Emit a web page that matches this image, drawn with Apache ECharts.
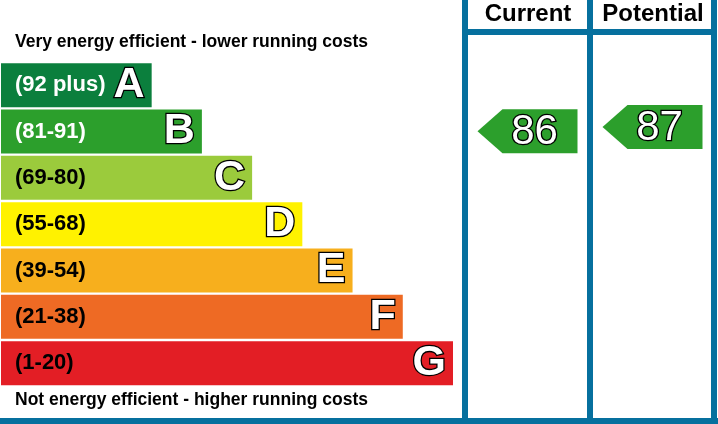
<!DOCTYPE html>
<html>
<head>
    <meta charset="UTF-8">
    <title>Energy efficiency rating</title>
</head>
<style>
    html, body { margin: 0; padding: 0; background: #fff; }
    #chart { width: 718px; height: 424px; }
</style>
<body>
<div id="chart"></div>
<script type="text/javascript" src="https://cdn.jsdelivr.net/npm/echarts@6/dist/echarts.min.js"></script>
<script>
    // bands, top (best) to bottom
    var bandLetters = ['A', 'B', 'C', 'D', 'E', 'F', 'G'];
    var bandRanges = ['(92 plus)', '(81-91)', '(69-80)', '(55-68)', '(39-54)', '(21-38)', '(1-20)'];
    var bandLength = [3, 4, 5, 6, 7, 8, 9];
    var bandColors = ['#0b7f3d', '#2c9f2c', '#9bcb3c', '#fff200', '#f7af1d', '#ee6a24', '#e31e25'];
    var rangeTextColors = ['#fff', '#fff', '#000', '#000', '#000', '#000', '#000'];

    // ratings
    var ratingColumns = ['Current', 'Potential'];
    var ratingValues = [86, 87];
    var ratingColors = ['#2c9f2c', '#2c9f2c'];

    var frameBlue = '#06709e';
    var font = '"Liberation Sans", Arial, sans-serif';

    var ele = document.getElementById('chart');
    var draw = echarts.init(ele);

    function frameRect(x, y, w, h) {
        return { type: 'rect', shape: { x: x, y: y, width: w, height: h }, style: { fill: frameBlue }, silent: true };
    }
    function plainText(x, y, text, size, align) {
        return {
            type: 'text', x: x, y: y, silent: true,
            style: { text: text, font: 'bold ' + size + 'px ' + font, fill: '#000', align: align, verticalAlign: 'middle' }
        };
    }
    // letter at the bar end; the black copy sits under the white one so the outline stays outside
    function letterSeries(fill, border) {
        return {
            type: 'bar',
            xAxisIndex: 0, yAxisIndex: 0,
            barWidth: 44,
            barGap: '-100%',
            silent: true,
            itemStyle: { color: 'rgba(0,0,0,0)' },
            data: bandLength,
            label: {
                show: true,
                position: 'insideRight',
                distance: 7,
                fontFamily: font,
                fontWeight: 'bold',
                fontSize: 43,
                color: fill,
                textBorderColor: '#000',
                textBorderWidth: border,
                formatter: function (p) { return bandLetters[p.dataIndex]; }
            }
        };
    }

    var option = {
        animation: false,
        backgroundColor: '#fff',
        grid: [
            { left: 1, top: 62, width: 452, height: 324.3 },
            // score axis: ~4.3px per point
            { left: 465, top: 105.5, width: 250, height: 51.6 }
        ],
        xAxis: [
            { gridIndex: 0, type: 'value', min: 0, max: 9, show: false },
            { gridIndex: 1, type: 'category', data: ratingColumns, show: false }
        ],
        yAxis: [
            { gridIndex: 0, type: 'category', data: bandLetters, inverse: true, show: false },
            { gridIndex: 1, type: 'value', min: 80, max: 92, show: false }
        ],
        graphic: [
            frameRect(462, 0, 6, 418),
            frameRect(587, 0, 6, 418),
            frameRect(711, 0, 6, 418),
            frameRect(462, 29, 255, 6),
            frameRect(0, 418, 718, 6),
            plainText(528, 14, ratingColumns[0], 24, 'center'),
            plainText(653, 14, ratingColumns[1], 24, 'center'),
            plainText(15, 42, 'Very energy efficient - lower running costs', 17.5, 'left'),
            plainText(15, 400, 'Not energy efficient - higher running costs', 17.5, 'left')
        ],
        series: [
            {
                type: 'bar',
                xAxisIndex: 0, yAxisIndex: 0,
                barWidth: 44,
                silent: true,
                data: bandLength.map(function (v, i) {
                    return {
                        value: v,
                        itemStyle: { color: bandColors[i] },
                        label: { color: rangeTextColors[i] }
                    };
                }),
                label: {
                    show: true,
                    position: 'insideLeft',
                    distance: 14,
                    fontFamily: font,
                    fontWeight: 'bold',
                    fontSize: 22,
                    formatter: function (p) { return bandRanges[p.dataIndex]; }
                }
            },
            letterSeries('#000', 2.6),
            letterSeries('#fff', 0),
            {
                type: 'custom',
                xAxisIndex: 1, yAxisIndex: 1,
                silent: true,
                data: ratingValues.map(function (v, i) { return [i, v]; }),
                renderItem: function (params, api) {
                    var c = api.coord([api.value(0), api.value(1)]);
                    var hw = 50, hh = 22, tip = 25;
                    return {
                        type: 'group',
                        children: [
                            {
                                type: 'polygon',
                                shape: {
                                    points: [
                                        [c[0] - hw, c[1]],
                                        [c[0] - hw + tip, c[1] - hh],
                                        [c[0] + hw, c[1] - hh],
                                        [c[0] + hw, c[1] + hh],
                                        [c[0] - hw + tip, c[1] + hh]
                                    ]
                                },
                                style: { fill: ratingColors[params.dataIndex] }
                            },
                            {
                                type: 'text',
                                x: c[0] + 7, y: c[1] + 1,
                                style: {
                                    text: String(api.value(1)),
                                    font: '42px ' + font,
                                    fill: '#fff', stroke: '#000', lineWidth: 2.6, strokeFirst: true,
                                    align: 'center', verticalAlign: 'middle'
                                }
                            }
                        ]
                    };
                }
            }
        ]
    };
    draw.setOption(option);
</script>
</body>
</html>
